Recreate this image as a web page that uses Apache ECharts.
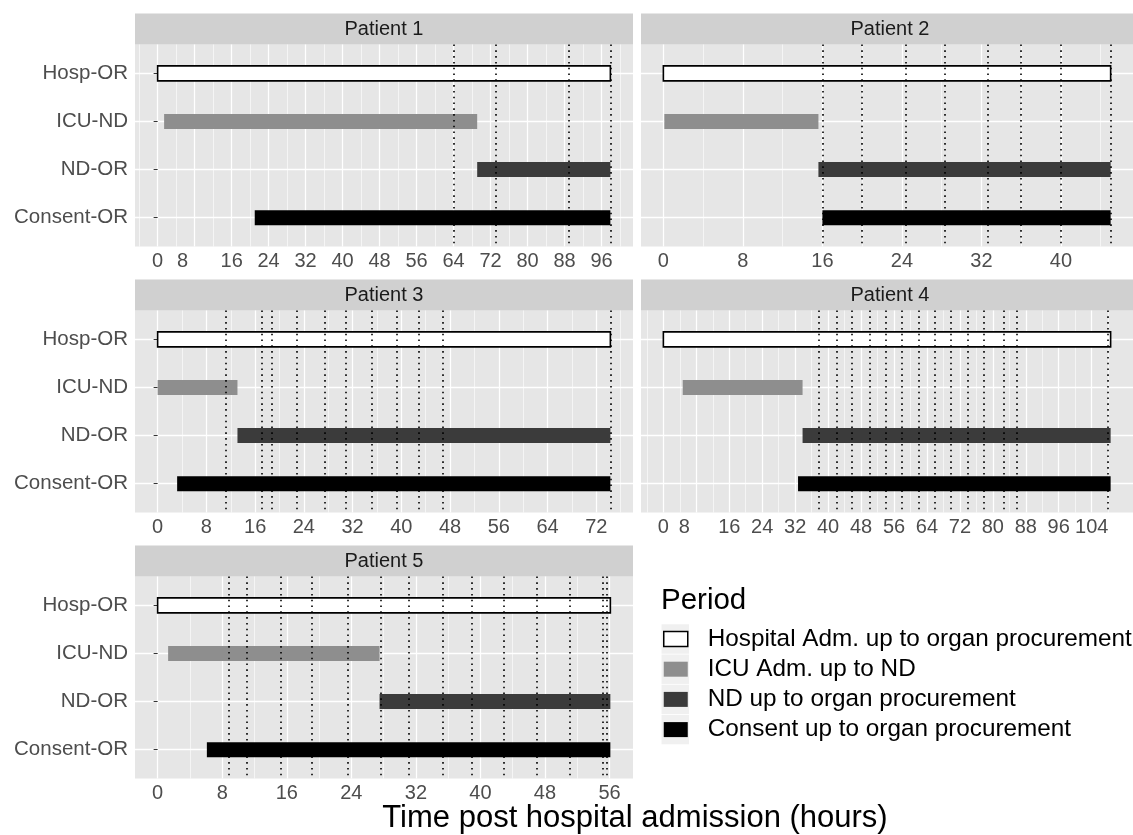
<!DOCTYPE html>
<html>
<head>
<meta charset="utf-8">
<script src="https://cdn.jsdelivr.net/npm/echarts@6/dist/echarts.min.js"></script>
<style>
  html, body { margin: 0; padding: 0; background: #fff; }
  #chart { width: 1133px; height: 835px; }
</style>
</head>
<body>
<div id="chart"></div>
<script>
// y categories, top to bottom
const categories = ['Hosp-OR', 'ICU-ND', 'ND-OR', 'Consent-OR'];
// legend labels, same order as categories
const periods = [
    'Hospital Adm. up to organ procurement',
    'ICU Adm. up to ND',
    'ND up to organ procurement',
    'Consent up to organ procurement'
];
const patients = ['Patient 1', 'Patient 2', 'Patient 3', 'Patient 4', 'Patient 5'];

// start / end of each period (hours post admission), order as categories
const p1Start = [0, 1.4, 69.1, 21.0];
const p1End = [97.9, 69.1, 97.9, 97.9];
const p2Start = [0, 0.1, 15.6, 16.0];
const p2End = [45.0, 15.6, 45.0, 45.0];
const p3Start = [0, 0, 13.1, 3.2];
const p3End = [74.3, 13.1, 74.3, 74.3];
const p4Start = [0, 4.7, 33.8, 32.7];
const p4End = [108.6, 33.8, 108.6, 108.6];
const p5Start = [0, 1.3, 27.5, 6.1];
const p5End = [56.1, 27.5, 56.1, 56.1];

// dotted vertical lines (hours)
const p1Marks = [64.0, 73.2, 88.8, 97.9];
const p2Marks = [16.0, 20.0, 24.4, 28.3, 32.6, 36.0, 40.0, 45.0];
const p3Marks = [11.1, 17.1, 18.8, 22.9, 27.4, 30.9, 35.2, 39.2, 42.8, 46.8, 74.3];
const p4Marks = [37.8, 42.0, 45.8, 50.2, 54.0, 57.9, 61.9, 65.8, 69.9, 74.0, 77.9, 82.6, 85.8, 107.9];
const p5Marks = [8.8, 11.0, 15.2, 19.1, 23.5, 27.6, 31.1, 35.3, 38.9, 42.9, 47.0, 51.1, 55.1, 55.7];

// x tick labels per panel
const p1Ticks = [0, 8, 16, 24, 32, 40, 48, 56, 64, 72, 80, 88, 96];
const p2Ticks = [0, 8, 16, 24, 32, 40];
const p3Ticks = [0, 8, 16, 24, 32, 40, 48, 56, 64, 72];
const p4Ticks = [0, 8, 16, 24, 32, 40, 48, 56, 64, 72, 80, 88, 96, 104];
const p5Ticks = [0, 8, 16, 24, 32, 40, 48, 56];

const starts = [p1Start, p2Start, p3Start, p4Start, p5Start];
const ends = [p1End, p2End, p3End, p4End, p5End];
const marks = [p1Marks, p2Marks, p3Marks, p4Marks, p5Marks];
const ticks = [p1Ticks, p2Ticks, p3Ticks, p4Ticks, p5Ticks];
// panels where the "8" label is nudged left (as in the original)
const nudgeEight = [true, false, false, true, false];

const FONT = '"Liberation Sans", Arial, Helvetica, sans-serif';
const fills = ['#ffffff', '#8e8e8e', '#3b3b3b', '#000000'];
const panelBg = '#e6e6e6';
const stripBg = '#d0d0d0';
const tickFont = 20, yFont = 20.5, stripFont = 20, legendFont = 24.3;

// facet layout
const panelW = 498, panelH = 202, stripH = 31;
const colLeft = [135, 641];
const rowTop = [44.5, 310.5, 576.5];
const barH = 15;

let myChart = echarts.init(document.getElementById('chart'), null, {renderer: 'canvas'});

let grids = [], xAxes = [], yAxes = [], series = [], graphics = [];

patients.forEach(function (name, i) {
    let col = i % 2, row = Math.floor(i / 2);
    let left = colLeft[col], top = rowTop[row];
    grids.push({
        left: left, top: top, width: panelW, height: panelH,
        show: true, backgroundColor: panelBg, borderWidth: 0
    });

    // ggplot style 5% expansion of the data range
    let all = starts[i].concat(ends[i], marks[i]);
    let lo = Math.min.apply(null, all), hi = Math.max.apply(null, all);
    let pad = (hi - lo) * 0.05;
    let xmin = lo - pad, xmax = hi + pad;

    // minor grid lines halfway between breaks
    let minor = [];
    for (let v = Math.floor(xmin / 8) * 8 + 4; v <= xmax; v += 8) {
        if (v >= xmin) minor.push(v);
    }

    xAxes.push({
        gridIndex: i, type: 'value', min: xmin, max: xmax, position: 'bottom',
        axisLine: {show: false},
        axisTick: {show: true, length: 4, customValues: ticks[i], lineStyle: {color: '#333333', width: 1}},
        axisLabel: {
            customValues: ticks[i], margin: 5, color: '#4d4d4d', fontSize: tickFont, fontFamily: FONT,
            formatter: function (v) {
                return (nudgeEight[i] && v === 8) ? '{s|8}' : String(v);
            },
            rich: {s: {padding: [0, 24, 0, 0], color: '#4d4d4d', fontSize: tickFont, fontFamily: FONT}}
        },
        splitLine: {show: true, lineStyle: {color: '#ffffff', width: 1.3}}
    });
    xAxes.push({
        gridIndex: i, type: 'value', min: xmin, max: xmax, position: 'top',
        axisLine: {show: false},
        axisTick: {show: false, customValues: minor},
        axisLabel: {show: false, customValues: minor},
        splitLine: {show: true, lineStyle: {color: '#ffffff', width: 0.6}}
    });

    let showY = col === 0;
    yAxes.push({
        gridIndex: i, type: 'value', inverse: true, min: -0.6, max: 3.6,
        axisLine: {show: false},
        axisTick: {show: showY, length: 4, customValues: [0, 1, 2, 3], lineStyle: {color: '#333333', width: 1}},
        axisLabel: {
            show: showY, customValues: [0, 1, 2, 3], margin: 7,
            color: '#4d4d4d', fontSize: yFont, fontFamily: FONT,
            formatter: function (v) { return categories[v]; }
        },
        splitLine: {show: true, lineStyle: {color: '#ffffff', width: 1.3}}
    });

    // one range bar series per period
    categories.forEach(function (cat, k) {
        let s = {
            name: periods[k],
            type: 'custom',
            xAxisIndex: 2 * i, yAxisIndex: i,
            encode: {x: [0, 1], y: 2},
            data: [[starts[i][k], ends[i][k], k]],
            itemStyle: k === 0
                ? {color: fills[k], borderColor: '#000000', borderWidth: 1.6}
                : {color: fills[k]},
            renderItem: function (params, api) {
                let y = api.value(2);
                let a = api.coord([api.value(0), y]);
                let b = api.coord([api.value(1), y]);
                return {
                    type: 'rect',
                    shape: {x: a[0], y: a[1] - barH / 2, width: b[0] - a[0], height: barH},
                    style: api.style()
                };
            }
        };
        if (k === 0) {
            s.markLine = {
                silent: true, symbol: ['none', 'none'], animation: false,
                label: {show: false},
                lineStyle: {color: '#000000', width: 1.6, type: [1.6, 4.2]},
                data: marks[i].map(function (v) { return {xAxis: v}; })
            };
        }
        series.push(s);
    });

    // facet strip
    graphics.push({
        type: 'rect', silent: true,
        shape: {x: left, y: top - stripH, width: panelW, height: stripH},
        style: {fill: stripBg}
    });
    graphics.push({
        type: 'text', silent: true,
        x: left + panelW / 2, y: top - stripH / 2 + 0.5,
        style: {text: name, fill: '#1a1a1a', font: stripFont + 'px ' + FONT, textAlign: 'center', textVerticalAlign: 'middle'}
    });
});

// legend layout and key backgrounds
const legendLeft = 663, legendPitch = 30.2, legendLine = 25;
const legendTop = 639 - legendLine / 2;
periods.forEach(function (p, k) {
    let cy = legendTop + legendLine / 2 + k * legendPitch;
    graphics.push({
        type: 'rect', silent: true, z: -1,
        shape: {x: legendLeft - 1.5, y: cy - legendPitch / 2 + 0.4, width: 27.5, height: legendPitch - 0.8},
        style: {fill: '#f0f0f0'}
    });
});

graphics.push({
    type: 'text', silent: true, x: 661, y: 601,
    style: {text: 'Period', fill: '#000000', font: '29.5px ' + FONT, textVerticalAlign: 'middle'}
});
graphics.push({
    type: 'text', silent: true, x: 635, y: 818,
    style: {text: 'Time post hospital admission (hours)', fill: '#000000', font: '31px ' + FONT,
        textAlign: 'center', textVerticalAlign: 'middle'}
});

let option = {
    backgroundColor: '#ffffff',
    animation: false,
    grid: grids,
    xAxis: xAxes,
    yAxis: yAxes,
    legend: {
        left: legendLeft, top: legendTop, orient: 'vertical', padding: 0,
        itemWidth: 24, itemHeight: 15, itemGap: legendPitch - legendLine, selectedMode: false,
        data: periods.map(function (p, k) {
            return {
                name: p, icon: 'rect',
                itemStyle: k === 0
                    ? {color: fills[k], borderColor: '#000000', borderWidth: 1.5}
                    : {color: fills[k], borderWidth: 0}
            };
        }),
        textStyle: {color: '#000000', fontSize: legendFont, fontFamily: FONT, lineHeight: legendLine, padding: [0, 0, 0, 15]}
    },
    graphic: {elements: graphics},
    series: series
};

myChart.setOption(option);
window.addEventListener('resize', function () {
    myChart.resize();
});
</script>
</body>
</html>
